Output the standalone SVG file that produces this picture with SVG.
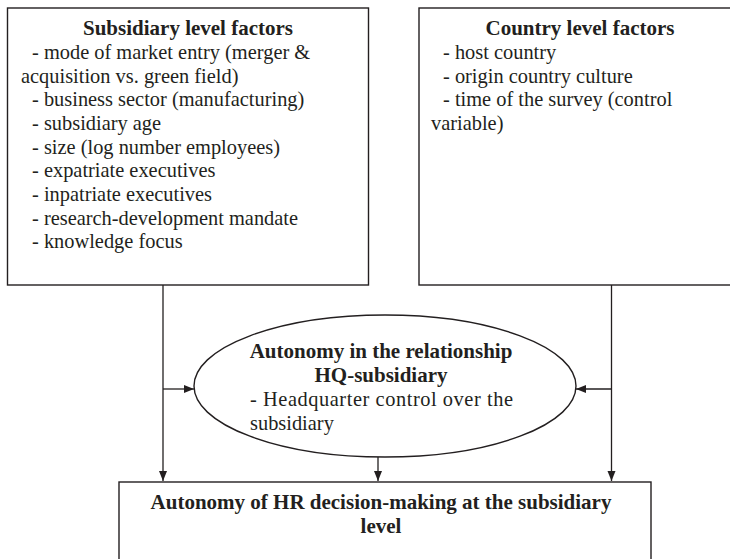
<svg xmlns="http://www.w3.org/2000/svg" width="730" height="559" viewBox="0 0 730 559">
<style>
.box{fill:#fff;stroke:#231f20;stroke-width:1.4}
.t{font-family:"Liberation Serif","Times New Roman",serif;font-size:20.4px;fill:#231f20}
.b{font-family:"Liberation Serif","Times New Roman",serif;font-size:21px;font-weight:bold;fill:#231f20;text-anchor:middle}
.c{fill:none;stroke:#231f20;stroke-width:1.3}
</style>
<defs>
<marker id="ah" viewBox="0 0 10 10" refX="10" refY="5" markerWidth="10" markerHeight="10" markerUnits="userSpaceOnUse" orient="auto">
<path d="M0,1 L10,5 L0,9 Z" fill="#231f20"/>
</marker>
</defs>
<rect width="730" height="559" fill="#fff"/>
<g id="subsidiary">
<rect class="box" x="7.5" y="8" width="361" height="277"/>
<text class="b" x="188" y="35">Subsidiary level factors</text>
<text class="t" x="32" y="59">- mode of market entry (merger &amp;</text>
<text class="t" x="21" y="82.5">acquisition vs. green field)</text>
<text class="t" x="32" y="106">- business sector (manufacturing)</text>
<text class="t" x="32" y="130">- subsidiary age</text>
<text class="t" x="32" y="153.5">- size (log number employees)</text>
<text class="t" x="32" y="177">- expatriate executives</text>
<text class="t" x="32" y="201">- inpatriate executives</text>
<text class="t" x="32" y="224.5">- research-development mandate</text>
<text class="t" x="32" y="248">- knowledge focus</text>
</g>
<g id="country">
<rect class="box" x="419" y="8" width="330" height="277"/>
<text class="b" x="580" y="35">Country level factors</text>
<text class="t" x="443" y="59">- host country</text>
<text class="t" x="443" y="82.5">- origin country culture</text>
<text class="t" x="443" y="106">- time of the survey (control</text>
<text class="t" x="431" y="130">variable)</text>
</g>
<g id="hq">
<ellipse class="box" cx="385" cy="386" rx="191" ry="71"/>
<text class="b" x="381" y="358">Autonomy in the relationship</text>
<text class="b" x="381" y="382">HQ-subsidiary</text>
<text class="t" x="250" y="406" textLength="263" lengthAdjust="spacing">- Headquarter control over the</text>
<text class="t" x="250" y="430">subsidiary</text>
</g>
<g id="hr">
<rect class="box" x="119" y="482" width="532" height="90"/>
<text class="b" x="381" y="509">Autonomy of HR decision-making at the subsidiary</text>
<text class="b" x="381" y="533">level</text>
</g>
<g id="connectors">
<path class="c" d="M163,285 V481" marker-end="url(#ah)"/>
<path class="c" d="M163,389 H194" marker-end="url(#ah)"/>
<path class="c" d="M611.5,285 V481" marker-end="url(#ah)"/>
<path class="c" d="M611.5,389 H576" marker-end="url(#ah)"/>
<path class="c" d="M378,457 V481" marker-end="url(#ah)"/>
</g>
</svg>
